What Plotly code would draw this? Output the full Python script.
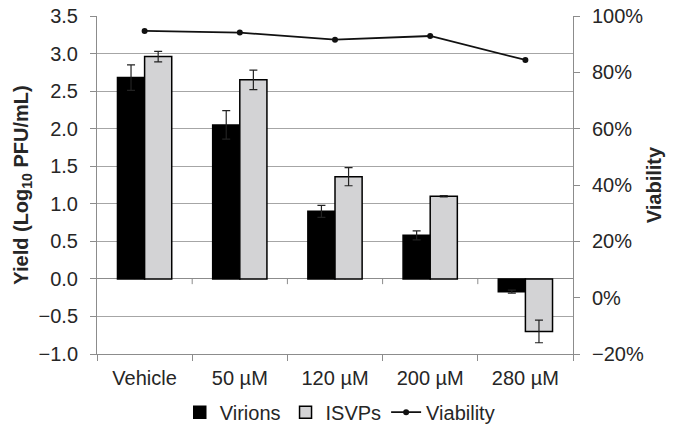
import plotly.graph_objects as go

# Treatment groups along the x axis
categories = ["Vehicle", "50 µM", "120 µM", "200 µM", "280 µM"]

# Yield (log10 PFU/mL) with standard deviations
virions = [2.68, 2.05, 0.90, 0.58, -0.17]
virions_err = [0.17, 0.19, 0.08, 0.06, 0.02]
isvps = [2.96, 2.65, 1.36, 1.10, -0.70]
isvps_err = [0.07, 0.13, 0.12, 0.01, 0.15]

# Cell viability (fraction of control)
viability = [0.947, 0.941, 0.916, 0.929, 0.844]

left_ticks = [-1.0, -0.5, 0.0, 0.5, 1.0, 1.5, 2.0, 2.5, 3.0, 3.5]
right_ticks = [-0.2, 0.0, 0.2, 0.4, 0.6, 0.8, 1.0]

FONT = "Liberation Sans, Arial, sans-serif"
GRID = "#a6a6a6"
AXIS = "#8c8c8c"
FS = 20

fig = go.Figure()

fig.add_trace(go.Bar(
    name="Virions", x=categories, y=virions,
    marker=dict(color="#000000", line=dict(color="#000000", width=1.5)),
    error_y=dict(type="data", array=virions_err, color="#222222", thickness=1.2, width=4),
))
fig.add_trace(go.Bar(
    name="ISVPs", x=categories, y=isvps,
    marker=dict(color="#d3d3d5", line=dict(color="#000000", width=1.5)),
    error_y=dict(type="data", array=isvps_err, color="#222222", thickness=1.2, width=4),
))
fig.add_trace(go.Scatter(
    name="Viability", x=categories, y=viability, yaxis="y2",
    mode="lines+markers",
    line=dict(color="#111111", width=1.8),
    marker=dict(color="#111111", size=6),
))

# Tick marks on the zero line at the category boundaries
for i in range(len(categories) - 1):
    fig.add_shape(type="line", xref="x", yref="y",
                  x0=i + 0.5, x1=i + 0.5, y0=0, y1=-0.07,
                  line=dict(color=AXIS, width=1))

fig.update_layout(
    width=680, height=438,
    margin=dict(l=97, r=107, t=16, b=84, autoexpand=False),
    paper_bgcolor="white", plot_bgcolor="white",
    font=dict(family=FONT, size=FS, color="#262626"),
    barmode="group", bargap=0.43, bargroupgap=0.0,
    showlegend=True,
    legend=dict(orientation="h", x=0.51, xanchor="center", y=-0.172, yanchor="middle",
                font=dict(size=FS), itemwidth=30, traceorder="normal"),
    xaxis=dict(
        automargin=False,
        showline=True, linecolor=AXIS, linewidth=1,
        ticks="outside", tickson="boundaries", ticklen=6, tickcolor=AXIS,
        ticklabelstandoff=6,
        showgrid=False, tickfont=dict(size=FS),
    ),
    yaxis=dict(
        automargin=False,
        range=[-1.0, 3.5], tickvals=left_ticks, tickformat=".1f",
        showgrid=True, gridcolor=GRID, gridwidth=1,
        zeroline=True, zerolinecolor=AXIS, zerolinewidth=1,
        showline=True, linecolor=AXIS, linewidth=1,
        ticks="outside", ticklen=6, tickcolor=AXIS, ticklabelstandoff=8,
        title=dict(text="<b>Yield (Log<sub>10</sub> PFU/mL)</b>", font=dict(size=FS), standoff=4),
        tickfont=dict(size=FS),
    ),
    yaxis2=dict(
        automargin=False,
        overlaying="y", side="right",
        range=[-0.2, 1.0], tickvals=right_ticks, tickformat=".0%",
        showgrid=False, zeroline=False,
        showline=True, linecolor=AXIS, linewidth=1,
        ticks="outside", ticklen=6, tickcolor=AXIS, ticklabelstandoff=8,
        title=dict(text="<b>Viability</b>", font=dict(size=FS), standoff=4),
        tickfont=dict(size=FS),
    ),
)

fig.write_html("out.html")
